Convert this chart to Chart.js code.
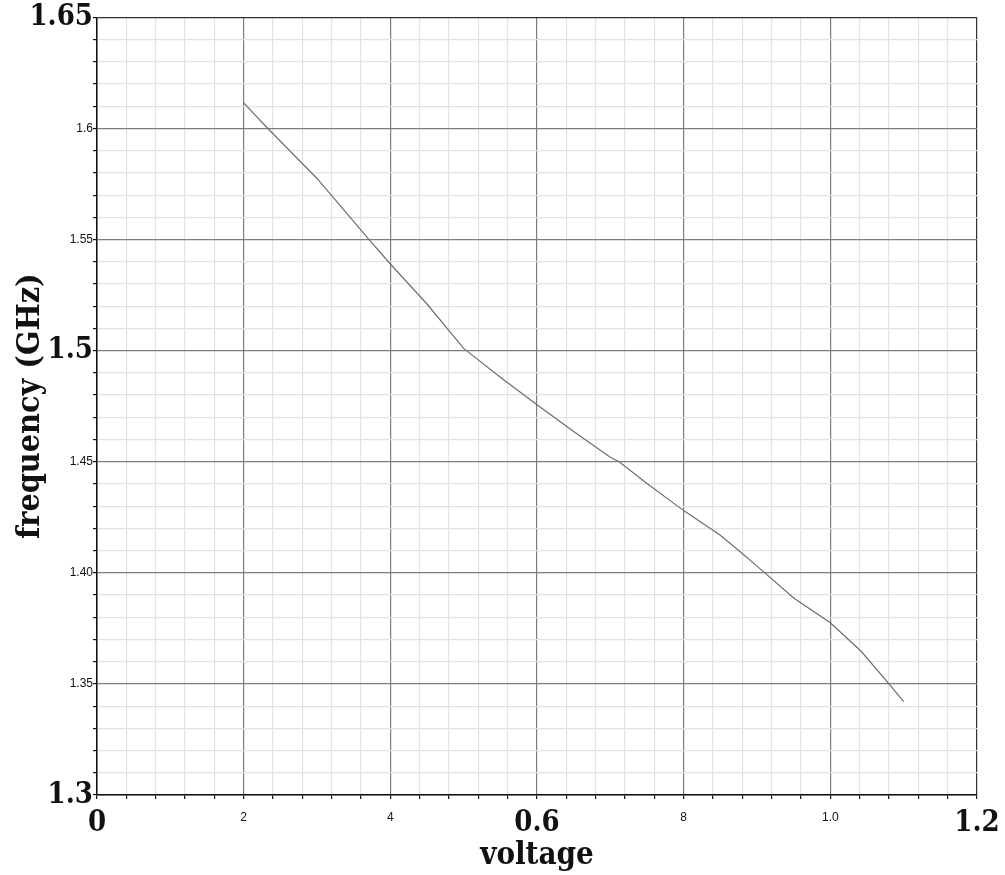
<!DOCTYPE html>
<html>
<head>
<meta charset="utf-8">
<script src="https://cdn.jsdelivr.net/npm/chart.js@4"></script>
<style>
  html, body { margin: 0; padding: 0; background: #fff; }
  #wrap { width: 1005px; height: 875px; }
</style>
</head>
<body>
<div id="wrap"><canvas id="chart" width="1005" height="875"></canvas></div>
<script>
// curve
var voltage   = [0.20, 0.233, 0.30, 0.371, 0.40, 0.45, 0.48, 0.50, 0.55, 0.60, 0.65, 0.70, 0.712, 0.75, 0.80, 0.85, 0.877, 0.90, 0.95, 1.00, 1.042, 1.08, 1.10];
var frequency = [1.6115, 1.600, 1.5775, 1.550, 1.539, 1.521, 1.509, 1.501, 1.488, 1.4757, 1.4636, 1.452, 1.450, 1.4402, 1.428, 1.4169, 1.4095, 1.403, 1.3887, 1.3775, 1.3647, 1.350, 1.342];

// labelled ticks, as they appear on the figure
var xTicks      = [0, 0.2, 0.4, 0.6, 0.8, 1.0, 1.2];
var xTickLabels = ['0', '2', '4', '0.6', '8', '1.0', '1.2'];
var yTicks      = [1.3, 1.35, 1.4, 1.45, 1.5, 1.55, 1.6, 1.65];
var yTickLabels = ['1.3', '1.35', '1.40', '1.45', '1.5', '1.55', '1.6', '1.65'];

var xTitle = 'voltage';
var yTitle = 'frequency (GHz)';

var serifBold = "'DejaVu Serif Condensed', 'DejaVu Serif', serif";
var smallSans = "'Liberation Sans', Arial, sans-serif";
var bigLabels = ['0', '0.6', '1.2', '1.3', '1.5', '1.65'];

var findLabel = function(value, ticks, labels) {
  for (var i = 0; i < ticks.length; i++) {
    if (Math.abs(value - ticks[i]) < 1e-6) return labels[i];
  }
  return '';
};

var points = voltage.map(function(v, i) { return { x: v, y: frequency[i] }; });

var gridColor = function(ctx, ticks, edge) {
  var v = ctx.tick ? ctx.tick.value : 0;
  if (Math.abs(v - edge) < 1e-6) return '#333';
  for (var i = 0; i < ticks.length; i++) {
    if (Math.abs(v - ticks[i]) < 1e-6) return '#7d7d7d';
  }
  return '#e3e3e3';
};

var tickFont = function(ctx, ticks, labels, small) {
  var lbl = ctx.tick ? findLabel(ctx.tick.value, ticks, labels) : '';
  if (bigLabels.indexOf(lbl) >= 0) return { family: serifBold, size: 29, weight: 'bold', lineHeight: 1.2 };
  return small;
};

new Chart(document.getElementById('chart'), {
  type: 'scatter',
  data: {
    datasets: [{
      data: points,
      showLine: true,
      borderColor: '#6e6e6e',
      borderWidth: 1.2,
      pointRadius: 0,
      tension: 0
    }]
  },
  options: {
    responsive: false,
    animation: false,
    layout: { padding: { top: 17, right: 28, left: 0, bottom: 0 } },
    plugins: { legend: { display: false }, tooltip: { enabled: false } },
    scales: {
      x: {
        type: 'linear',
        min: 0,
        max: 1.2,
        afterFit: function(scale) {
          scale.height = 80;
          scale.paddingRight = 0;
          scale.paddingLeft = 0;
        },
        border: { display: true, color: '#111', width: 1.5 },
        grid: {
          color: function(ctx) { return gridColor(ctx, xTicks, 1.2); },
          lineWidth: 1.2,
          tickColor: '#111',
          tickLength: 4
        },
        ticks: {
          stepSize: 0.04,
          maxTicksLimit: 100,
          autoSkip: false,
          maxRotation: 0,
          padding: 7,
          color: '#111',
          font: function(ctx) {
            return tickFont(ctx, xTicks, xTickLabels, { family: smallSans, size: 12, lineHeight: 1.9 });
          },
          callback: function(value) { return findLabel(value, xTicks, xTickLabels); }
        },
        title: {
          display: true,
          text: xTitle,
          color: '#111',
          font: { family: serifBold, size: 31, weight: 'bold', lineHeight: 1.2 },
          padding: { top: 0, bottom: 0 }
        }
      },
      y: {
        type: 'linear',
        min: 1.3,
        max: 1.65,
        afterFit: function(scale) { scale.width = 97; },
        border: { display: true, color: '#111', width: 1.5 },
        grid: {
          color: function(ctx) { return gridColor(ctx, yTicks, 1.65); },
          lineWidth: 1.2,
          tickColor: '#111',
          tickLength: 4
        },
        ticks: {
          stepSize: 0.01,
          maxTicksLimit: 100,
          autoSkip: false,
          padding: 0,
          color: '#111',
          font: function(ctx) {
            return tickFont(ctx, yTicks, yTickLabels, { family: smallSans, size: 12 });
          },
          callback: function(value) { return findLabel(value, yTicks, yTickLabels); }
        },
        title: {
          display: true,
          text: yTitle,
          color: '#111',
          font: { family: serifBold, size: 32, weight: 'bold', lineHeight: 1.2 },
          padding: { top: 11, bottom: 0 }
        }
      }
    }
  }
});
</script>
</body>
</html>
